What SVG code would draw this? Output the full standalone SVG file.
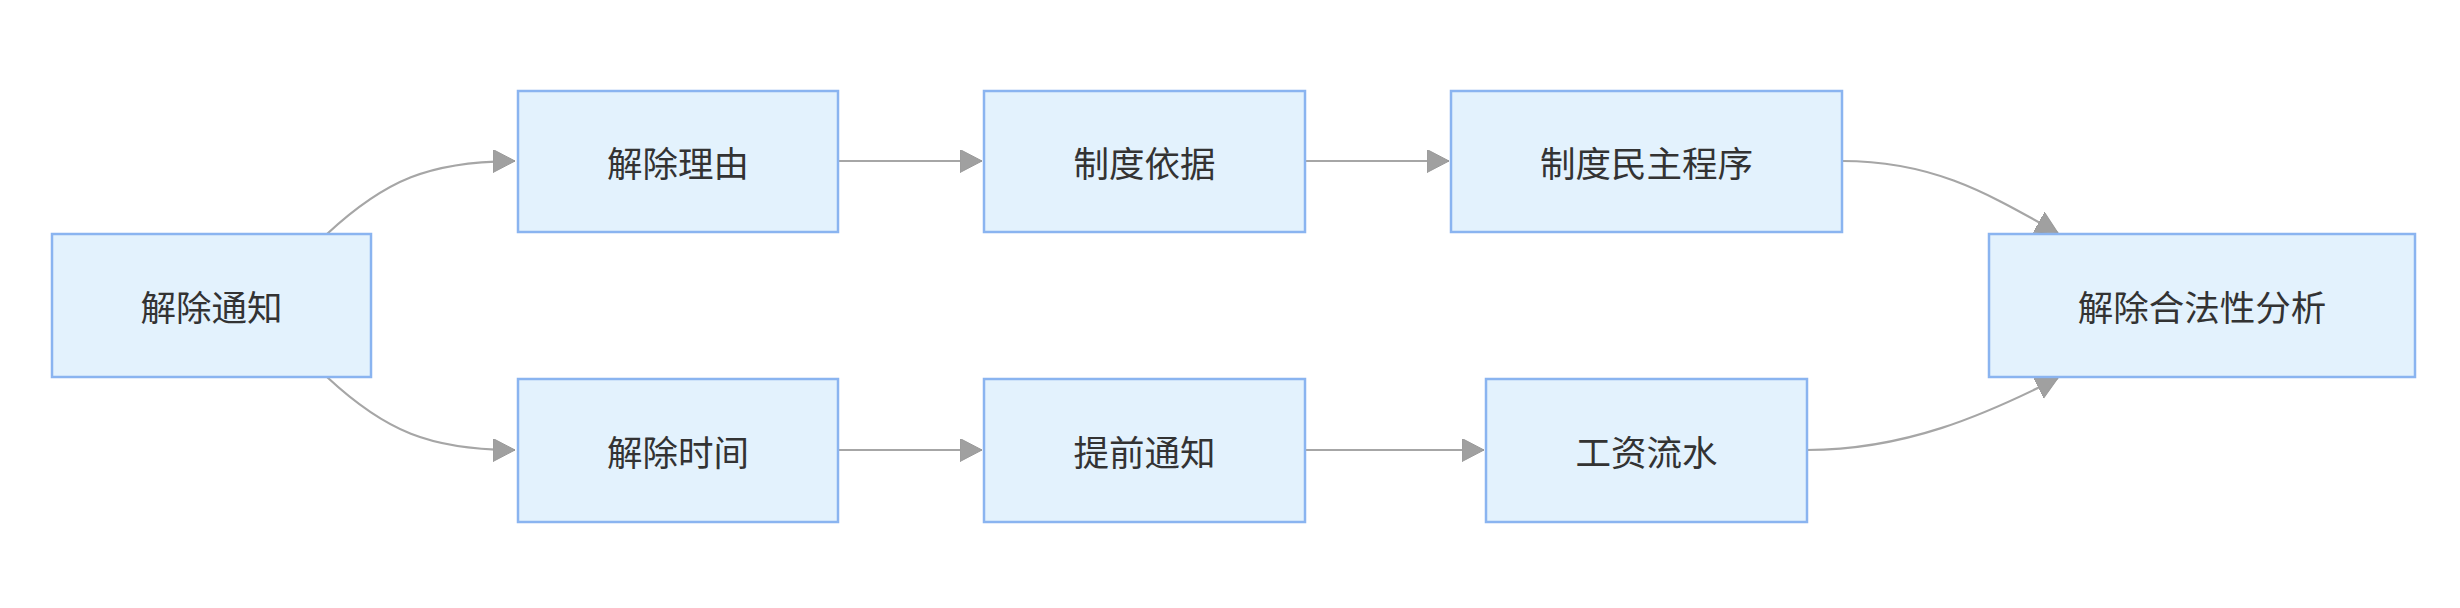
<svg xmlns="http://www.w3.org/2000/svg" width="2460" height="608" viewBox="0 0 2460 608">
  <defs>
    <style>
      .node rect { fill: #E3F2FD; stroke: #8AB4F0; stroke-width: 2.5; }
      .node text { font-family: "Noto Sans CJK SC", "Noto Sans", sans-serif; font-size: 35.5px; fill: #333333; text-anchor: middle; dominant-baseline: central; }
      .edge { fill: none; stroke: #A6A6A6; stroke-width: 2.2; marker-end: url(#arrow); }
    </style>
    <marker id="arrow" markerUnits="userSpaceOnUse" markerWidth="24" markerHeight="24" refX="22" refY="11.5" orient="auto">
      <path d="M0,0 L22,11.5 L0,23 z" fill="#A0A0A0" stroke="#999999" stroke-width="1"/>
    </marker>
  </defs>
  <rect width="2460" height="608" fill="#FFFFFF"/>
  <g id="connectors">
    <path class="edge" d="M327,234 C385,180 430,161 515,161"/>
    <path class="edge" d="M327,377 C385,431 430,450 515,450"/>
    <path class="edge" d="M838,161 H982"/>
    <path class="edge" d="M1305,161 H1449"/>
    <path class="edge" d="M838,450 H982"/>
    <path class="edge" d="M1305,450 H1484"/>
    <path class="edge" d="M1842,161 C1935,161 1990,195 2058,233"/>
    <path class="edge" d="M1807,450 C1905,450 1985,415 2058,378"/>
  </g>
  <g id="n1" class="node">
    <rect x="52" y="234" width="319" height="143"/>
    <text x="211.5" y="305.5">解除通知</text>
  </g>
  <g id="n2" class="node">
    <rect x="518" y="91" width="320" height="141"/>
    <text x="678" y="161.5">解除理由</text>
  </g>
  <g id="n3" class="node">
    <rect x="518" y="379" width="320" height="143"/>
    <text x="678" y="450.5">解除时间</text>
  </g>
  <g id="n4" class="node">
    <rect x="984" y="91" width="321" height="141"/>
    <text x="1144.5" y="161.5">制度依据</text>
  </g>
  <g id="n5" class="node">
    <rect x="984" y="379" width="321" height="143"/>
    <text x="1144.5" y="450.5">提前通知</text>
  </g>
  <g id="n6" class="node">
    <rect x="1451" y="91" width="391" height="141"/>
    <text x="1646.5" y="161.5">制度民主程序</text>
  </g>
  <g id="n7" class="node">
    <rect x="1486" y="379" width="321" height="143"/>
    <text x="1646.5" y="450.5">工资流水</text>
  </g>
  <g id="n8" class="node">
    <rect x="1989" y="234" width="426" height="143"/>
    <text x="2202" y="305.5">解除合法性分析</text>
  </g>
</svg>
